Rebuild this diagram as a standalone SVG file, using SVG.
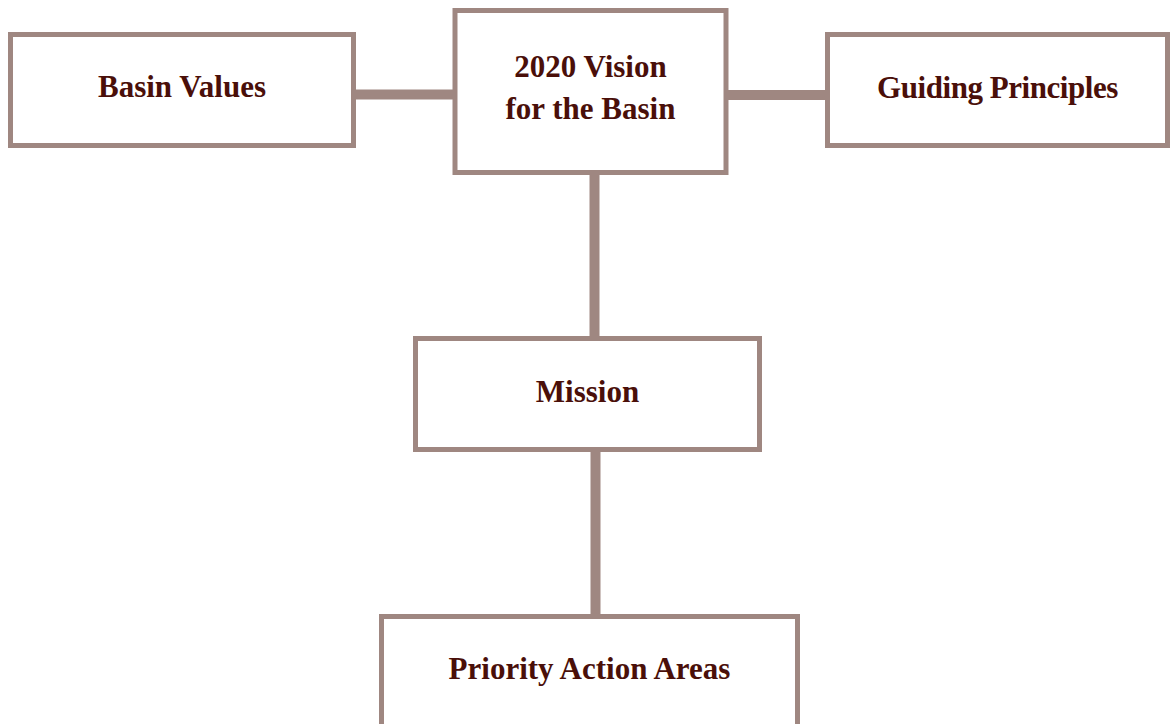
<svg xmlns="http://www.w3.org/2000/svg" width="1170" height="724" viewBox="0 0 1170 724">
<style>
.box{fill:#ffffff;stroke:#9f8781;stroke-width:5}
.lbl{font-family:"Liberation Serif","Times New Roman",serif;font-weight:bold;font-size:31px;fill:#4a0f09;text-anchor:middle}
.tight{letter-spacing:-0.45px}
.con{stroke:#9f8781;stroke-width:10;fill:none}
</style>
<rect width="1170" height="724" fill="#ffffff"/>
<g id="connectors">
<line class="con" x1="355" y1="94.5" x2="454" y2="94.5"/>
<line class="con" x1="727" y1="95" x2="826" y2="95"/>
<line class="con" x1="594.5" y1="173" x2="594.5" y2="338"/>
<line class="con" x1="595.5" y1="450" x2="595.5" y2="616"/>
</g>
<g id="basin-values">
<rect class="box" x="10.5" y="34.5" width="343" height="111"/>
<text class="lbl" x="182" y="97">Basin Values</text>
</g>
<g id="vision">
<rect class="box" x="455" y="10.5" width="271" height="162"/>
<text class="lbl" x="590.5" y="77">2020 Vision</text>
<text class="lbl" x="590.5" y="119">for the Basin</text>
</g>
<g id="guiding-principles">
<rect class="box" x="827.5" y="34.5" width="340" height="111"/>
<text class="lbl tight" x="997.5" y="97.5">Guiding Principles</text>
</g>
<g id="mission">
<rect class="box" x="415.5" y="338.5" width="344" height="111"/>
<text class="lbl" x="587.5" y="402">Mission</text>
</g>
<g id="priority-action-areas">
<rect class="box" x="381.5" y="616.5" width="416" height="130"/>
<text class="lbl" x="589.5" y="679">Priority Action Areas</text>
</g>
</svg>
